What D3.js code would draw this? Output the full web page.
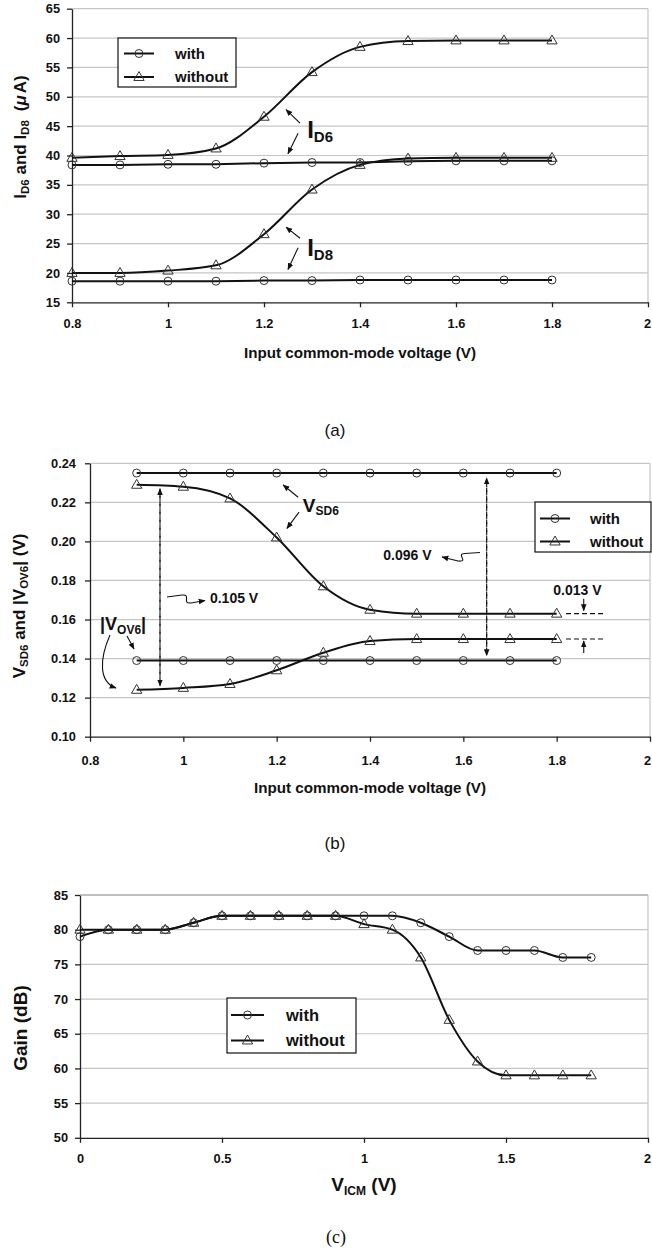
<!DOCTYPE html>
<html>
<head>
<meta charset="utf-8">
<script src="https://cdn.jsdelivr.net/npm/d3@7"></script>
<style>
  body { margin: 0; background: #fff; }
  svg text { font-family: "Liberation Sans", Arial, Helvetica, sans-serif; fill: #111; }
</style>
</head>
<body>
<svg id="fig" width="652" height="1249"></svg>
<script>
// ---------- (a) drain currents vs input common-mode voltage ----------
const vcmA = [0.8, 0.9, 1.0, 1.1, 1.2, 1.3, 1.4, 1.5, 1.6, 1.7, 1.8];
const id6With    = [38.4, 38.4, 38.5, 38.5, 38.7, 38.8, 38.8, 39.0, 39.1, 39.1, 39.1];
const id6Without = [39.6, 39.9, 40.1, 41.2, 46.6, 54.2, 58.5, 59.5, 59.6, 59.6, 59.6];
const id8With    = [18.6, 18.6, 18.6, 18.6, 18.7, 18.7, 18.8, 18.8, 18.8, 18.8, 18.8];
const id8Without = [20.0, 20.0, 20.4, 21.3, 26.6, 34.2, 38.4, 39.5, 39.6, 39.6, 39.6];
const xTicksA = [0.8, 1.0, 1.2, 1.4, 1.6, 1.8, 2.0];
const xTickLabelsA = ["0.8", "1", "1.2", "1.4", "1.6", "1.8", "2"];
const yTicksA = [15, 20, 25, 30, 35, 40, 45, 50, 55, 60, 65];
const yTickLabelsA = ["15", "20", "25", "30", "35", "40", "45", "50", "55", "60", "65"];

// ---------- (b) VSD6 and |VOV6| ----------
const vcmB = [0.9, 1.0, 1.1, 1.2, 1.3, 1.4, 1.5, 1.6, 1.7, 1.8];
const vsd6With    = [0.235, 0.235, 0.235, 0.235, 0.235, 0.235, 0.235, 0.235, 0.235, 0.235];
const vsd6Without = [0.229, 0.228, 0.222, 0.202, 0.177, 0.165, 0.163, 0.163, 0.163, 0.163];
const vov6With    = [0.139, 0.139, 0.139, 0.139, 0.139, 0.139, 0.139, 0.139, 0.139, 0.139];
const vov6Without = [0.124, 0.125, 0.127, 0.134, 0.143, 0.149, 0.150, 0.150, 0.150, 0.150];
const xTicksB = [0.8, 1.0, 1.2, 1.4, 1.6, 1.8, 2.0];
const xTickLabelsB = ["0.8", "1", "1.2", "1.4", "1.6", "1.8", "2"];
const yTicksB = [0.10, 0.12, 0.14, 0.16, 0.18, 0.20, 0.22, 0.24];
const yTickLabelsB = ["0.10", "0.12", "0.14", "0.16", "0.18", "0.20", "0.22", "0.24"];

// ---------- (c) gain vs VICM ----------
const vcmC = [0, 0.1, 0.2, 0.3, 0.4, 0.5, 0.6, 0.7, 0.8, 0.9, 1.0, 1.1, 1.2, 1.3, 1.4, 1.5, 1.6, 1.7, 1.8];
const gainWith    = [79, 80, 80, 80, 81, 82, 82, 82, 82, 82, 82, 82, 81, 79, 77, 77, 77, 76, 76];
const gainWithout = [80, 80, 80, 80, 81, 82, 82, 82, 82, 82, 80.8, 80, 76, 67, 61, 59, 59, 59, 59];
const xTicksC = [0, 0.5, 1.0, 1.5, 2.0];
const xTickLabelsC = ["0", "0.5", "1", "1.5", "2"];
const yTicksC = [50, 55, 60, 65, 70, 75, 80, 85];
const yTickLabelsC = ["50", "55", "60", "65", "70", "75", "80", "85"];

const seriesNames = ["with", "without"];

const svg = d3.select("#fig");
const W = +svg.attr("width");
const INK = "#111";
const GRID = "#c6c6c6";
const SANS = "'Liberation Sans', Arial, Helvetica, sans-serif";

// arrowhead used by all annotation arrows
svg.append("defs").append("marker")
  .attr("id", "head").attr("viewBox", "0 0 10 10")
  .attr("refX", 9).attr("refY", 5)
  .attr("markerWidth", 7).attr("markerHeight", 7)
  .attr("markerUnits", "userSpaceOnUse").attr("orient", "auto-start-reverse")
  .append("path").attr("d", "M0,1 L10,5 L0,9 Z").attr("fill", INK);

function frame(cfg) {
  const { x, y, xTicks, xLabels, yTicks, yLabels, yPad, xPad } = cfg;
  const g = svg.append("g");
  const [x0, x1] = x.range();
  const [yb, yt] = y.range();
  const ymin = y.domain()[0];
  g.selectAll("line.grid").data(yTicks.filter(t => t !== ymin)).join("line")
    .attr("x1", x0).attr("x2", x1).attr("y1", d => y(d)).attr("y2", d => y(d))
    .attr("stroke", GRID).attr("stroke-width", 1.2);
  g.append("line").attr("x1", x1).attr("x2", x1).attr("y1", yt).attr("y2", yb)
    .attr("stroke", GRID).attr("stroke-width", 1.2);
  g.append("g").attr("transform", `translate(${x0},0)`)
    .call(d3.axisLeft(y).tickValues(yTicks).tickFormat((d, i) => yLabels[i])
      .tickSize(5).tickSizeOuter(0).tickPadding(yPad));
  const xg = g.append("g").attr("transform", `translate(0,${yb})`)
    .call(d3.axisBottom(x).tickValues(xTicks).tickFormat((d, i) => xLabels[i])
      .tickSize(5).tickSizeOuter(0).tickPadding(xPad));
  g.selectAll(".tick text").attr("font-size", 12.8).attr("font-weight", "bold");
  // keep the last x label inside the page edge
  xg.selectAll(".tick text").filter(d => x(d) + 5 > W).attr("dx", d => W - 5 - x(d));
  g.selectAll(".domain, .tick line").attr("stroke", "#222").attr("stroke-width", 1.3);
  return g;
}

const triangle = d3.symbol().type(d3.symbolTriangle).size(46);

function marker(g, type, cx, cy) {
  if (type === "circle") {
    g.append("circle").attr("cx", cx).attr("cy", cy).attr("r", 4)
      .attr("fill", "none").attr("stroke", "#333").attr("stroke-width", 1);
  } else {
    g.append("path").attr("d", triangle()).attr("transform", `translate(${cx},${cy + 0.5})`)
      .attr("fill", "none").attr("stroke", "#333").attr("stroke-width", 1);
  }
}

function series(g, xs, ys, x, y, type, curve) {
  const pts = xs.map((v, i) => [x(v), y(ys[i])]);
  g.append("path").attr("d", d3.line().curve(curve)(pts))
    .attr("fill", "none").attr("stroke", INK).attr("stroke-width", 2);
  pts.forEach(p => marker(g, type, p[0], p[1]));
}

function legend(box, rowYs, lineX, textX, fontSize) {
  const g = svg.append("g");
  g.append("rect").attr("x", box[0]).attr("y", box[1]).attr("width", box[2]).attr("height", box[3])
    .attr("fill", "#fff").attr("stroke", INK).attr("stroke-width", 1.2);
  seriesNames.forEach((name, i) => {
    const yy = rowYs[i];
    g.append("line").attr("x1", lineX[0]).attr("x2", lineX[1]).attr("y1", yy).attr("y2", yy)
      .attr("stroke", INK).attr("stroke-width", 2);
    marker(g, i === 0 ? "circle" : "triangle", (lineX[0] + lineX[1]) / 2, yy);
    g.append("text").attr("x", textX).attr("y", yy).attr("dy", "0.36em")
      .attr("font-size", fontSize).attr("font-weight", "bold").text(name);
  });
}

// text with a subscript part: parts = [[text, isSub, extraAttrs], ...]
function richText(g, x, y, parts, size, subSize, opts = {}) {
  const t = g.append("text").attr("x", x).attr("y", y).attr("font-weight", "bold")
    .attr("font-size", size);
  if (opts.anchor) t.attr("text-anchor", opts.anchor);
  if (opts.transform) t.attr("transform", opts.transform);
  let shifted = 0;
  parts.forEach(([s, sub, extra]) => {
    const sp = t.append("tspan").text(s);
    const want = sub ? subSize * 0.3 : 0;
    sp.attr("dy", want - shifted);
    shifted = want;
    if (sub) sp.attr("font-size", subSize);
    if (extra) Object.entries(extra).forEach(([k, v]) => sp.attr(k, v));
  });
  return t;
}

function arrow(g, pts, dashed, curved) {
  const p = g.append("path")
    .attr("d", curved ? pts : d3.line()(pts))
    .attr("fill", "none").attr("stroke", INK).attr("stroke-width", 1.1)
    .attr("marker-end", "url(#head)");
  if (dashed) p.attr("stroke-dasharray", "5,3");
  return p;
}

// ================= panel (a) =================
const xA = d3.scaleLinear().domain([0.8, 2.0]).range([72, 648]);
const yA = d3.scaleLinear().domain([15, 65]).range([302.3, 8.7]);
const gA = frame({ x: xA, y: yA, xTicks: xTicksA, xLabels: xTickLabelsA, yTicks: yTicksA,
  yLabels: yTickLabelsA, yPad: 7, xPad: 12 });
series(gA, vcmA, id6With, xA, yA, "circle", d3.curveLinear);
series(gA, vcmA, id8With, xA, yA, "circle", d3.curveLinear);
series(gA, vcmA, id6Without, xA, yA, "triangle", d3.curveMonotoneX);
series(gA, vcmA, id8Without, xA, yA, "triangle", d3.curveMonotoneX);

// current labels with pointer arrows
[[43.0, 45.5, 47.8, 43.8, 40.3, "D6"], [22.9, 25.9, 27.8, 24.3, 20.6, "D8"]].forEach(([base, t1, h1, t2, h2, sub]) => {
  richText(gA, xA(1.29), yA(base), [["I", false], [sub, true]], 24, 15);
  arrow(gA, [[xA(1.275), yA(t1)], [xA(1.246), yA(h1)]]);
  arrow(gA, [[xA(1.271), yA(t2)], [xA(1.25), yA(h2)]]);
});

legend([118, 38, 118, 49], [53.5, 77], [124, 154], 175, 15);

svg.append("text").attr("x", (xA.range()[0] + xA.range()[1]) / 2).attr("y", 358)
  .attr("text-anchor", "middle").attr("font-size", 15.2).attr("font-weight", "bold")
  .text("Input common-mode voltage (V)");
richText(svg, 0, 0, [["I", false], ["D6", true], [" and I", false], ["D8", true],
  ["(", false, { dx: 9 }], ["μ", false, { "font-style": "italic" }], ["A)", false, { dx: 2 }]],
  17, 11.5, { anchor: "middle", transform: "translate(26,137) rotate(-90)" });
svg.append("text").attr("x", 335).attr("y", 436).attr("text-anchor", "middle")
  .attr("font-size", 17).style("font-family", SANS).text("(a)");

// ================= panel (b) =================
const xB = d3.scaleLinear().domain([0.8, 2.0]).range([90, 650]);
const yB = d3.scaleLinear().domain([0.10, 0.24]).range([736.7, 463.3]);
const gB = frame({ x: xB, y: yB, xTicks: xTicksB, xLabels: xTickLabelsB, yTicks: yTicksB,
  yLabels: yTickLabelsB, yPad: 9, xPad: 14 });
series(gB, vcmB, vsd6With, xB, yB, "circle", d3.curveLinear);
series(gB, vcmB, vov6With, xB, yB, "circle", d3.curveLinear);
series(gB, vcmB, vsd6Without, xB, yB, "triangle", d3.curveMonotoneX);
series(gB, vcmB, vov6Without, xB, yB, "triangle", d3.curveMonotoneX);

// VSD6 label
richText(gB, xB(1.256), yB(0.2152), [["V", false], ["SD6", true]], 19, 12);
arrow(gB, [[xB(1.246), yB(0.2226)], [xB(1.214), yB(0.2289)]]);
arrow(gB, [[xB(1.248), yB(0.2150)], [xB(1.222), yB(0.2067)]]);

// |VOV6| label
richText(gB, 100, 630, [["|V", false], ["OV6", true], ["|", false]], 18, 12);
arrow(gB, [[127, 636], [134, 649]]);
arrow(gB, "M110,635 C99,660 99,682 116,688", false, true);

// 0.105 V span at VICM = 0.95
const xSpan1 = xB(0.95);
arrow(gB, [[xSpan1, yB(vov6Without[0]) - 5], [xSpan1, yB(vsd6Without[0]) + 4]], true);
arrow(gB, [[xSpan1, yB(vsd6Without[0]) + 8], [xSpan1, yB(vov6Without[0]) - 4]], true);
gB.append("text").attr("x", xB(1.057)).attr("y", yB(0.1686)).attr("font-size", 14)
  .attr("font-weight", "bold").text("0.105 V");
arrow(gB, "M167,597 L182,595 C192,594 181,604 191,603 L205,600.5", false, true);

// 0.096 V span at VICM = 1.65
const xSpan2 = xB(1.65);
arrow(gB, [[xSpan2, yB(vov6With[0]) - 8], [xSpan2, yB(vsd6With[0]) + 5]], true);
arrow(gB, [[xSpan2, yB(vsd6With[0]) + 9], [xSpan2, yB(vov6With[0]) - 5]], true);
gB.append("text").attr("x", xB(1.4285)).attr("y", yB(0.1905)).attr("font-size", 14)
  .attr("font-weight", "bold").text("0.096 V");
arrow(gB, "M480,552.5 L465,553.5 C455,554 470,562 458,561 L442,557", false, true);

// 0.013 V gap between the two plateaus
const vsdEnd = vsd6Without[vsd6Without.length - 1];
const vovEnd = vov6Without[vov6Without.length - 1];
[vsdEnd, vovEnd].forEach(v => {
  gB.append("line").attr("x1", xB(1.82)).attr("x2", xB(1.9)).attr("y1", yB(v)).attr("y2", yB(v))
    .attr("stroke", INK).attr("stroke-width", 1.1).attr("stroke-dasharray", "5,3");
});
gB.append("text").attr("x", xB(1.7927)).attr("y", yB(0.1728)).attr("font-size", 14)
  .attr("font-weight", "bold").text("0.013 V");
arrow(gB, [[xB(1.858), yB(vsdEnd) - 15], [xB(1.858), yB(vsdEnd) - 3]]);
arrow(gB, [[xB(1.858), yB(vovEnd) + 14], [xB(1.858), yB(vovEnd) + 2]]);

legend([535, 502, 116, 50], [518.5, 541.5], [540, 570], 590, 15);

svg.append("text").attr("x", (xB.range()[0] + xB.range()[1]) / 2).attr("y", 793)
  .attr("text-anchor", "middle").attr("font-size", 15.2).attr("font-weight", "bold")
  .text("Input common-mode voltage (V)");
richText(svg, 0, 0, [["V", false], ["SD6", true], [" and |V", false], ["OV6", true], ["| (V)", false]],
  17, 11.5, { anchor: "middle", transform: "translate(25,606) rotate(-90)" });
svg.append("text").attr("x", 335).attr("y", 849).attr("text-anchor", "middle")
  .attr("font-size", 17).style("font-family", SANS).text("(b)");

// ================= panel (c) =================
const xC = d3.scaleLinear().domain([0, 2.0]).range([80, 648]);
const yC = d3.scaleLinear().domain([50, 85]).range([1137.8, 895]);
const gC = frame({ x: xC, y: yC, xTicks: xTicksC, xLabels: xTickLabelsC, yTicks: yTicksC,
  yLabels: yTickLabelsC, yPad: 7, xPad: 11 });
// top border of the plot area
gC.append("line").attr("x1", xC.range()[0]).attr("x2", xC.range()[1])
  .attr("y1", yC.range()[1]).attr("y2", yC.range()[1]).attr("stroke", "#999").attr("stroke-width", 1.2);
series(gC, vcmC, gainWith, xC, yC, "circle", d3.curveMonotoneX);
series(gC, vcmC, gainWithout, xC, yC, "triangle", d3.curveMonotoneX);

legend([227, 998, 129, 55], [1015, 1040.5], [231, 264], 286, 16.5);

richText(svg, (xC.range()[0] + xC.range()[1]) / 2, 1191,
  [["V", false], ["ICM", true], [" (V)", false]], 19, 12, { anchor: "middle" });
svg.append("text").attr("transform", "translate(27,1028) rotate(-90)")
  .attr("text-anchor", "middle").attr("font-size", 19).attr("font-weight", "bold")
  .text("Gain (dB)");
svg.append("text").attr("x", 336).attr("y", 1243).attr("text-anchor", "middle")
  .attr("font-size", 18).style("font-family", "'Liberation Serif', 'Times New Roman', serif")
  .text("(c)");
</script>
</body>
</html>
